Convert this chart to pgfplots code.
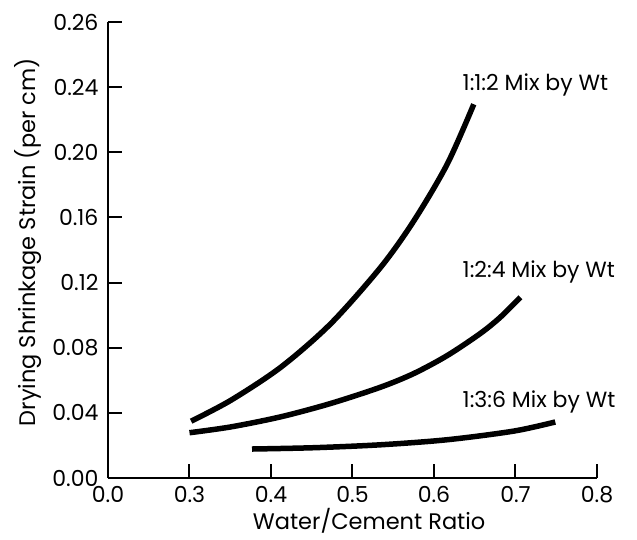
\documentclass[border=0pt]{standalone}
\usepackage{fontspec}
\setmainfont{Poppins}
\usepackage{pgfplots}
\pgfplotsset{compat=1.18}

\begin{document}
\begin{tikzpicture}
\fontsize{22}{26}\selectfont
\path[use as bounding box] (-108pt,-61pt) rectangle (529pt,478pt);
\begin{axis}[
    at={(0pt,0pt)}, anchor=south west,
    scale only axis,
    width=489pt, height=456pt,
    xmin=0.2, xmax=0.8,
    ymin=0, ymax=0.28,
    axis x line=bottom, axis y line=left,
    axis line style={-, line width=2.4pt},
    tick align=inside,
    major tick length=14pt,
    every tick/.style={line width=2pt, black},
    xtick={0.2,0.3,0.4,0.5,0.6,0.7,0.8},
    xticklabels={\mbox{0.0},\mbox{0.3},\mbox{0.4},\mbox{0.5},\mbox{0.6},\mbox{0.7},\mbox{0.8}},
    ytick={0,0.04,0.08,0.12,0.16,0.20,0.24,0.28},
    yticklabels={\mbox{0.00},\mbox{0.04},\mbox{0.08},\mbox{0.12},\mbox{0.16},\mbox{0.20},\mbox{0.24},\mbox{0.26}},
    ticklabel style={font=\fontsize{22}{26}\selectfont},
    yticklabel style={xshift=-2pt},
    xticklabel style={yshift=-1pt},
    xlabel={Water/Cement Ratio},
    ylabel={Drying Shrinkage Strain (per cm)},
    xlabel style={at={(axis description cs:0.534,-0.114)}, anchor=base, font=\fontsize{22.5}{26}\selectfont},
    ylabel style={at={(axis description cs:-0.1626,0.517)}, anchor=center, font=\fontsize{22.5}{26}\selectfont},
    clip=false,
]
% 1:1:2
\addplot[black, line width=5.5pt, smooth, tension=0.5] coordinates {
    (0.302,0.0349)(0.351,0.0478)(0.4125,0.0682)(0.4734,0.0948)
    (0.5346,0.1294)(0.5754,0.158)(0.6163,0.1928)(0.6488,0.2295)
};
% 1:2:4
\addplot[black, line width=5.5pt, smooth, tension=0.5] coordinates {
    (0.300,0.0278)(0.351,0.0314)(0.4122,0.0376)(0.4734,0.0458)
    (0.5346,0.0558)(0.5754,0.0642)(0.6163,0.0752)(0.6570,0.0888)
    (0.6820,0.0990)(0.7060,0.1110)
};
% 1:3:6
\addplot[black, line width=5.5pt, smooth, tension=0.5] coordinates {
    (0.3767,0.0178)(0.4526,0.0186)(0.5346,0.0204)(0.6163,0.0235)
    (0.6978,0.0288)(0.7488,0.0344)
};
\node[anchor=base west, inner sep=0pt] at (axis cs:0.635,0.238) {1:1:2 Mix by Wt};
\node[anchor=base west, inner sep=0pt] at (axis cs:0.635,0.1233) {1:2:4 Mix by Wt};
\node[anchor=base west, inner sep=0pt] at (axis cs:0.635,0.0431) {1:3:6 Mix by Wt};
\end{axis}
\end{tikzpicture}
\end{document}
